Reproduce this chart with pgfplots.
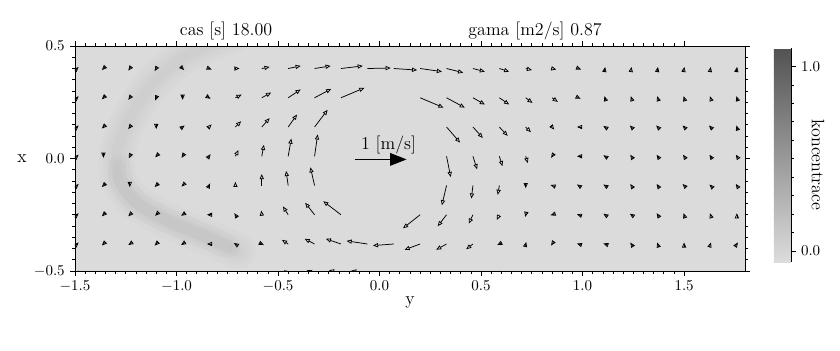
\documentclass[border=0pt]{standalone}
\usepackage{pgfplots}
\pgfplotsset{compat=1.18}
\usepackage{pgfplotstable}
\usetikzlibrary{arrows.meta}
\definecolor{bggray}{RGB}{219,219,219}

\pgfplotstableread{
x y u v
-1.49 0.40 0.03 0.03
-1.36 0.40 -0.03 -0.03
-1.23 0.40 -0.03 -0.04
-1.10 0.40 -0.03 -0.05
-0.97 0.40 0.03 -0.03
-0.84 0.40 0.05 -0.02
-0.71 0.40 0.08 0.00
-0.58 0.40 0.15 0.03
-0.45 0.40 0.24 0.05
-0.32 0.40 0.31 0.05
-0.19 0.40 0.42 0.05
-0.06 0.40 0.45 0.01
0.07 0.40 0.45 -0.03
0.20 0.40 0.42 -0.06
0.33 0.40 0.32 -0.08
0.46 0.40 0.23 -0.06
0.59 0.40 0.19 -0.06
0.72 0.40 0.12 -0.03
0.85 0.40 0.08 -0.02
0.98 0.40 0.05 -0.02
1.11 0.40 0.005 0.03
1.24 0.40 0.005 0.03
1.37 0.40 0.005 0.03
1.50 0.40 0.005 0.03
1.63 0.40 0.005 0.03
1.76 0.40 0.005 0.03
-1.49 0.27 0.03 0.03
-1.36 0.27 -0.03 -0.03
-1.23 0.27 -0.03 -0.04
-1.10 0.27 -0.02 -0.05
-0.97 0.27 0.00 -0.04
-0.84 0.27 0.03 -0.02
-0.71 0.27 0.12 0.06
-0.58 0.27 0.18 0.10
-0.45 0.27 0.24 0.16
-0.32 0.27 0.32 0.17
-0.19 0.27 0.45 0.19
0.20 0.27 0.45 -0.19
0.33 0.27 0.35 -0.19
0.46 0.27 0.23 -0.13
0.59 0.27 0.19 -0.13
0.72 0.27 0.13 -0.10
0.85 0.27 0.11 -0.08
0.98 0.27 0.04 -0.02
1.11 0.27 -0.01 0.03
1.24 0.27 -0.01 0.03
1.37 0.27 -0.01 0.03
1.50 0.27 -0.01 0.03
1.63 0.27 -0.01 0.03
1.76 0.27 -0.01 0.03
-1.49 0.14 0.03 0.03
-1.36 0.14 -0.03 -0.03
-1.23 0.14 -0.03 -0.04
-1.10 0.14 0.00 -0.04
-0.97 0.14 0.04 0.03
-0.84 0.14 0.05 0.05
-0.71 0.14 0.11 0.11
-0.58 0.14 0.15 0.17
-0.45 0.14 0.17 0.24
-0.32 0.14 0.25 0.33
0.33 0.14 0.26 -0.30
0.46 0.14 0.19 -0.21
0.59 0.14 0.16 -0.17
0.72 0.14 0.10 -0.10
0.85 0.14 0.04 -0.05
0.98 0.14 -0.03 0.00
1.11 0.14 -0.03 0.02
1.24 0.14 -0.03 0.03
1.37 0.14 -0.03 0.03
1.50 0.14 -0.03 0.03
1.63 0.14 -0.03 0.03
1.76 0.14 -0.01 0.03
-1.49 0.01 0.03 0.03
-1.36 0.01 0.00 -0.03
-1.23 0.01 -0.02 -0.04
-1.10 0.01 -0.02 -0.02
-0.97 0.01 -0.02 -0.03
-0.84 0.01 0.03 0.04
-0.71 0.01 0.06 0.12
-0.58 0.01 0.04 0.22
-0.45 0.01 0.06 0.34
-0.32 0.01 0.06 0.42
0.33 0.01 0.08 -0.40
0.46 0.01 0.08 -0.25
0.59 0.01 0.06 -0.19
0.72 0.01 0.04 -0.13
0.85 0.01 -0.02 -0.03
0.98 0.01 -0.03 0.00
1.11 0.01 -0.03 0.02
1.24 0.01 -0.02 0.03
1.37 0.01 -0.02 0.03
1.50 0.01 -0.02 0.03
1.63 0.01 -0.02 0.03
1.76 0.01 -0.02 0.03
-1.49 -0.12 0.03 0.03
-1.36 -0.12 -0.03 -0.03
-1.23 -0.12 0.00 -0.03
-1.10 -0.12 -0.03 -0.03
-0.97 -0.12 -0.02 -0.02
-0.84 -0.12 0.02 0.04
-0.71 -0.12 0.00 0.07
-0.58 -0.12 0.00 0.22
-0.45 -0.12 -0.04 0.28
-0.32 -0.12 -0.08 0.35
0.33 -0.12 -0.09 -0.38
0.46 -0.12 -0.03 -0.25
0.59 -0.12 -0.03 -0.18
0.72 -0.12 0.00 -0.05
0.85 -0.12 -0.03 0.01
0.98 -0.12 -0.03 0.02
1.11 -0.12 -0.03 0.02
1.24 -0.12 -0.02 0.03
1.37 -0.12 -0.02 0.03
1.50 -0.12 -0.03 0.03
1.63 -0.12 -0.02 0.02
1.76 -0.12 -0.02 0.03
-1.49 -0.25 0.03 0.03
-1.36 -0.25 -0.03 -0.03
-1.23 -0.25 -0.03 -0.03
-1.10 -0.25 -0.02 -0.02
-0.97 -0.25 -0.03 -0.02
-0.84 -0.25 -0.04 0.00
-0.71 -0.25 -0.02 0.03
-0.58 -0.25 -0.01 0.08
-0.45 -0.25 -0.10 0.16
-0.32 -0.25 -0.18 0.23
-0.19 -0.25 -0.34 0.26
0.20 -0.25 -0.33 -0.26
0.33 -0.25 -0.17 -0.22
0.46 -0.25 -0.08 -0.17
0.59 -0.25 -0.05 -0.10
0.72 -0.25 -0.01 -0.04
0.85 -0.25 -0.03 -0.01
0.98 -0.25 -0.03 0.01
1.11 -0.25 -0.03 0.02
1.24 -0.25 -0.03 0.02
1.37 -0.25 -0.02 0.03
1.50 -0.25 -0.01 0.03
1.63 -0.25 -0.01 0.03
1.76 -0.25 0.00 0.03
-1.49 -0.38 0.03 0.03
-1.36 -0.38 -0.03 -0.03
-1.23 -0.38 -0.03 -0.02
-1.10 -0.38 -0.03 -0.03
-0.97 -0.38 -0.03 -0.02
-0.84 -0.38 -0.04 0.00
-0.71 -0.38 -0.03 0.02
-0.58 -0.38 0.04 -0.02
-0.45 -0.38 -0.12 0.08
-0.32 -0.38 -0.19 0.10
-0.19 -0.38 -0.29 0.10
-0.06 -0.38 -0.40 0.06
0.07 -0.38 -0.40 -0.03
0.20 -0.38 -0.30 -0.11
0.33 -0.38 -0.20 -0.11
0.46 -0.38 -0.13 -0.10
0.59 -0.38 -0.04 -0.02
0.72 -0.38 0.01 0.04
0.85 -0.38 -0.02 -0.03
0.98 -0.38 -0.03 0.01
1.11 -0.38 -0.03 0.01
1.24 -0.38 -0.02 0.03
1.37 -0.38 -0.01 0.03
1.50 -0.38 0.00 0.03
1.63 -0.38 0.01 0.03
1.76 -0.38 0.02 0.03
-1.49 -0.51 0.03 0.05
-0.45 -0.51 -0.08 0.06
-0.32 -0.51 -0.15 0.06
-0.19 -0.51 -0.23 0.06
-0.06 -0.51 -0.31 0.05
0.07 -0.51 -0.30 0.00
0.20 -0.51 -0.20 -0.02
0.59 -0.51 0.00 0.05
0.72 -0.51 -0.01 0.04
0.85 -0.51 -0.01 0.04
0.98 -0.51 -0.02 0.04
1.11 -0.51 -0.02 0.04
}\vel

\pgfplotstableread{
x y u v
-0.123 -0.004 1 0
}\refarrow

\pgfplotstableread{
x y
-0.74 0.54
-0.86 0.50
-1.00 0.43
-1.13 0.32
-1.23 0.18
-1.29 0.04
-1.29 -0.08
-1.22 -0.18
-1.10 -0.25
-0.96 -0.31
-0.82 -0.36
-0.70 -0.41
}\bandall

\pgfplotstableread{
x y
-1.28 -0.04
-1.27 -0.11
-1.19 -0.20
-1.07 -0.265
-0.94 -0.315
-0.82 -0.36
-0.75 -0.39
}\bandlow

\begin{document}
\begin{tikzpicture}
\path[use as bounding box] (-50pt,-52.67pt) rectangle (510pt,180.67pt);
\begin{axis}[
  name=main,
  scale only axis, width=446.67pt, height=150pt,
  xmin=-1.5, xmax=1.8, ymin=-0.5, ymax=0.5,
  xtick={-1.5,-1.0,-0.5,0,0.5,1.0,1.5},
  ytick={-0.5,0,0.5},
  minor x tick num=9, minor y tick num=9,
  tick align=outside, major tick length=3.3pt, minor tick length=1.8pt,
  tick style={black, line width=0.5pt},
  axis line style={line width=0.6pt},
  xticklabel style={/pgf/number format/.cd, fixed, fixed zerofill, precision=1},
  yticklabel style={/pgf/number format/.cd, fixed, fixed zerofill, precision=1},
  xlabel={y}, ylabel={x},
  xlabel style={font=\large, at={(axis description cs:0.5,0)}, anchor=center, yshift=-20.7pt},
  ylabel style={rotate=-90, font=\large, at={(axis description cs:0,0.5)}, anchor=center, xshift=-35.3pt},
  axis background/.style={fill=bggray},
  colormap={conc}{rgb255=(220,220,220) rgb255=(82,82,82)},
  point meta min=-0.06, point meta max=1.10,
  colorbar,
  colorbar style={
    at={(parent axis.north east)}, anchor=north west,
    xshift=10.67pt, yshift=-1.33pt,
    scale only axis, width=11.33pt, height=142.7pt,
    ytick={0,1}, minor y tick num=9,
    yticklabel style={/pgf/number format/.cd, fixed, fixed zerofill, precision=1},
    tick align=outside, major tick length=3.3pt, minor tick length=1.8pt,
    axis x line=none, axis y line*=right,
  },
]
% concentration band (blurred crescent)
\addplot[forget plot, smooth, draw=black, draw opacity=0.012, line width=24pt, line cap=round] table {\bandall};
\addplot[forget plot, smooth, draw=black, draw opacity=0.012, line width=18pt, line cap=round] table {\bandall};
\addplot[forget plot, smooth, draw=black, draw opacity=0.012, line width=12pt, line cap=round] table {\bandall};
\addplot[forget plot, smooth, draw=black, draw opacity=0.012, line width=7pt, line cap=round] table {\bandall};
\addplot[forget plot, smooth, draw=black, draw opacity=0.014, line width=16pt, line cap=round] table {\bandlow};
\addplot[forget plot, smooth, draw=black, draw opacity=0.014, line width=9pt, line cap=round] table {\bandlow};
% velocity field
\addplot[forget plot, black, line width=0.5pt, -{Triangle[open, length=3.4pt, width=2.8pt]},
  quiver={u=\thisrow{u}*0.256, v=\thisrow{v}*0.231}] table {\vel};
% reference arrow 1 m/s
\addplot[forget plot, black, line width=0.6pt, -{Triangle[length=11pt, width=8.5pt]},
  quiver={u=\thisrow{u}*0.256, v=\thisrow{v}*0.231}] table {\refarrow};
\end{axis}
\node[anchor=base, font=\large] at (209pt,81pt) {1 [m/s]};
\node[anchor=base, font=\large] at (100.7pt,156.7pt) {cas [s] 18.00};
\node[anchor=base, font=\large] at (306.7pt,156.7pt) {gama [m2/s] 0.87};
\node[rotate=-90, font=\large] at (495.3pt,70.7pt) {koncentrace};
\end{tikzpicture}
\end{document}
